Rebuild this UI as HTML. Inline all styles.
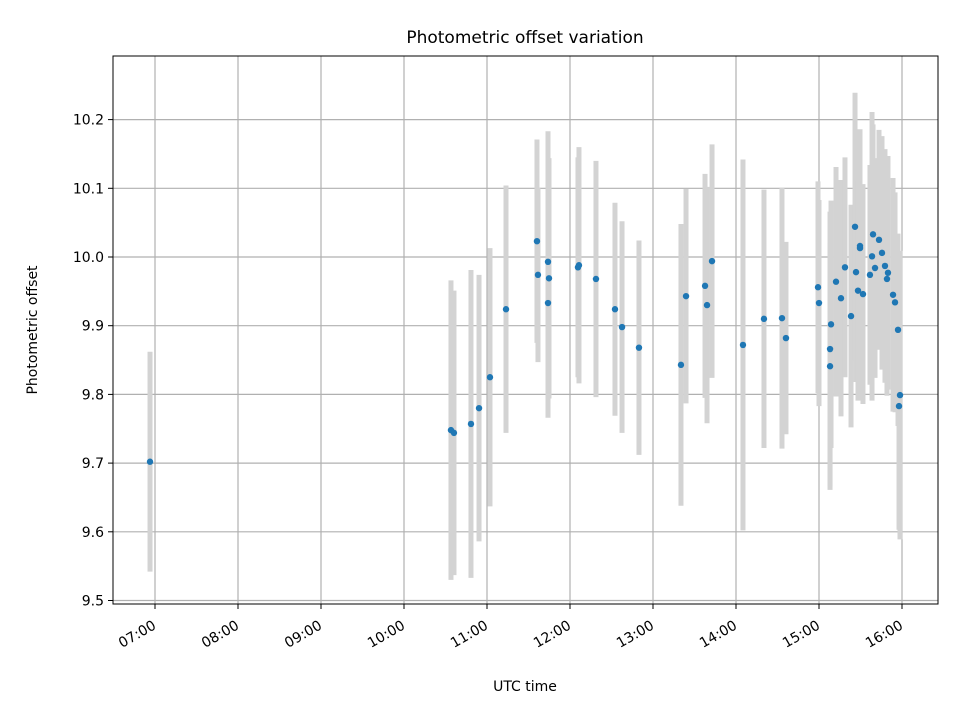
<!DOCTYPE html>
<html><head><meta charset="utf-8"><style>
body{margin:0;background:#fff}
svg text{font-family:"DejaVu Sans","Liberation Sans",sans-serif;fill:#000}
</style></head><body>
<svg id="chart" width="960" height="720" xmlns="http://www.w3.org/2000/svg">
<rect width="960" height="720" fill="#fff"/>
<text x="525" y="43" font-size="17" text-anchor="middle">Photometric offset variation</text>
<text x="525" y="691" font-size="14" text-anchor="middle">UTC time</text>
<text transform="translate(37,330) rotate(-90)" font-size="14" text-anchor="middle">Photometric offset</text>
<g id="grid"></g><g id="bars"></g><g id="pts"></g><g id="axes"></g>
</svg>
<script>
const hours=[6.94,10.566,10.602,10.807,10.904,11.036,11.229,11.602,11.614,11.735,11.747,11.735,12.096,12.108,12.313,12.542,12.627,12.831,13.337,13.398,13.627,13.651,13.711,14.084,14.337,14.554,14.602,14.988,15.0,15.145,15.133,15.133,15.205,15.265,15.313,15.386,15.434,15.446,15.494,15.494,15.470,15.530,15.639,15.651,15.723,15.759,15.614,15.675,15.795,15.819,15.831,15.892,15.916,15.952,15.976,15.964];
const offsets=[9.702,9.748,9.744,9.757,9.780,9.825,9.924,10.023,9.974,9.993,9.969,9.933,9.985,9.988,9.968,9.924,9.898,9.868,9.843,9.943,9.958,9.930,9.994,9.872,9.910,9.911,9.882,9.956,9.933,9.902,9.866,9.841,9.964,9.940,9.985,9.914,10.044,9.978,10.016,10.013,9.951,9.946,10.001,10.033,10.025,10.006,9.974,9.984,9.987,9.968,9.977,9.945,9.934,9.894,9.799,9.783];
const errors=[0.16,0.218,0.207,0.224,0.194,0.188,0.18,0.148,0.127,0.19,0.175,0.167,0.16,0.172,0.172,0.155,0.154,0.156,0.205,0.156,0.163,0.172,0.17,0.27,0.188,0.19,0.14,0.154,0.15,0.18,0.2,0.18,0.167,0.172,0.16,0.162,0.195,0.16,0.17,0.16,0.16,0.16,0.21,0.16,0.16,0.17,0.16,0.16,0.17,0.17,0.17,0.17,0.16,0.14,0.21,0.18];
const xTicks=[7,8,9,10,11,12,13,14,15,16];
const xTickLabels=["07:00","08:00","09:00","10:00","11:00","12:00","13:00","14:00","15:00","16:00"];
const yTicks=[9.5,9.6,9.7,9.8,9.9,10.0,10.1,10.2];
const yTickLabels=["9.5","9.6","9.7","9.8","9.9","10.0","10.1","10.2"];
const L=113,R=938,T=56,B=604;
const xs=h=>155+(h-7)*83;
const ys=v=>257-(v-10)*687;
const NS="http://www.w3.org/2000/svg";
function mk(tag,attrs,parent){const e=document.createElementNS(NS,tag);for(const k in attrs)e.setAttribute(k,attrs[k]);document.getElementById(parent).appendChild(e);return e;}
xTicks.forEach((t,i)=>{
 const x=xs(t);
 const g=mk('line',{x1:x,x2:x,y1:T,y2:B,stroke:'#b0b0b0','stroke-width':1.2},'grid');
 
 
 const tk=mk('line',{x1:x,x2:x,y1:B,y2:B+5,stroke:'#000','stroke-width':1},'axes');
 
 
 const ax=x+2, ay=B+24;
 const tx=mk('text',{x:ax,y:ay,'font-size':14,'text-anchor':'end',transform:`rotate(-30 ${ax} ${ay})`},'axes');
 tx.textContent=xTickLabels[i];
 
 
});
yTicks.forEach((t,i)=>{
 const y=ys(t);
 const g=mk('line',{x1:L,x2:R,y1:y,y2:y,stroke:'#b0b0b0','stroke-width':1.2},'grid');
 
 
 const tk=mk('line',{x1:L-5,x2:L,y1:y,y2:y,stroke:'#000','stroke-width':1},'axes');
 
 
 const tx=mk('text',{x:L-9,y:y+5,'font-size':14,'text-anchor':'end'},'axes');
 tx.textContent=yTickLabels[i];
 
 
});
const fr=mk('rect',{x:L,y:T,width:R-L,height:B-T,fill:'none',stroke:'#000','stroke-width':1},'axes');


hours.forEach((h,i)=>{
 const x=xs(h);
 const b=mk('line',{x1:x,x2:x,y1:ys(offsets[i]+errors[i]),y2:ys(offsets[i]-errors[i]),stroke:'#d3d3d3','stroke-width':5},'bars');
 
 
});
hours.forEach((h,i)=>{
 const c=mk('circle',{cx:xs(h),cy:ys(offsets[i]),r:3.2,fill:'#1f77b4'},'pts');
 
 
});
</script>
</body></html>
